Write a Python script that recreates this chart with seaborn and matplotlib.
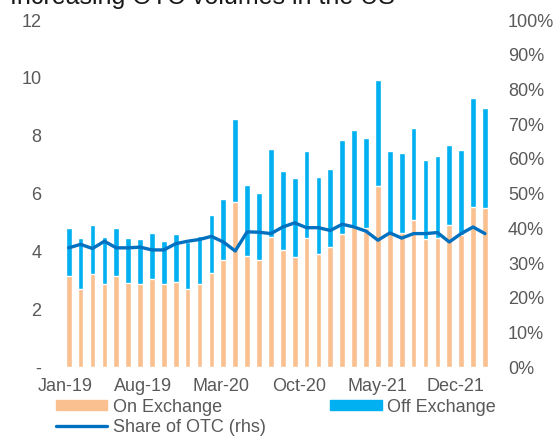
import numpy as np
import pandas as pd
import seaborn as sns
import matplotlib.pyplot as plt
from matplotlib.patches import Patch
from matplotlib.lines import Line2D

# monthly categories Jan-19 .. Dec-21
months = list(pd.date_range("2019-01-01", periods=36, freq="MS").strftime("%b-%y"))

# volumes
on_exchange = [3.15, 2.72, 3.23, 2.87, 3.14, 2.92, 2.88, 3.06, 2.87, 2.96, 2.72, 2.87,
               3.27, 3.72, 5.70, 3.85, 3.70, 4.49, 4.06, 3.80, 4.47, 3.92, 4.14, 4.61,
               4.88, 4.81, 6.27, 4.63, 4.63, 5.08, 4.42, 4.47, 4.90, 4.56, 5.54, 5.49]
off_exchange = [1.66, 1.76, 1.70, 1.63, 1.67, 1.54, 1.54, 1.58, 1.49, 1.66, 1.61, 1.68,
                1.98, 2.11, 2.87, 2.46, 2.33, 3.06, 2.73, 2.73, 3.01, 2.64, 2.72, 3.25,
                3.33, 3.10, 3.66, 2.83, 2.78, 3.18, 2.76, 2.83, 2.78, 2.94, 3.77, 3.46]
share_otc = [34.4, 35.4, 34.2, 36.3, 34.4, 34.4, 34.6, 33.8, 33.8, 35.6, 36.3, 36.8,
             37.7, 36.1, 33.5, 39.0, 38.9, 38.5, 40.4, 41.6, 40.2, 40.2, 39.4, 41.2,
             40.4, 39.2, 36.6, 38.7, 37.2, 38.5, 38.5, 38.8, 36.1, 38.5, 40.4, 38.5]

x_labels = ["Jan-19", "Aug-19", "Mar-20", "Oct-20", "May-21", "Dec-21"]
left_labels = ["-", "2", "4", "6", "8", "10", "12"]

df = pd.DataFrame({"month": months, "on": on_exchange, "off": off_exchange, "share": share_otc})
df["total"] = df["on"] + df["off"]
df["idx"] = np.arange(len(df))

sns.set_theme(style="white")
plt.rcParams["font.family"] = ["Liberation Sans", "DejaVu Sans"]

c_on = "#FAC090"
c_off = "#00B0F0"
c_line = "#0070C0"
grey = "#595959"

fig = plt.figure(figsize=(5.57, 4.38), dpi=100)
ax = fig.add_axes([0.102, 0.1614, 0.79, 0.7929])

# stacked bars: total (off exchange on top) then on exchange over it
sns.barplot(data=df, x="month", y="total", color=c_off, width=0.48, saturation=1, ax=ax)
sns.barplot(data=df, x="month", y="on", color=c_on, width=0.48, saturation=1, ax=ax)

ax.set_xlim(-1, 36)
ax.set_ylim(0, 12)
ax.set_yticks(np.arange(0, 13, 2))
ax.set_yticklabels(left_labels)
ax.set_xticks(np.linspace(-0.3, 32.5, len(x_labels)))
ax.set_xticklabels(x_labels)
ax.set_xlabel("")
ax.set_ylabel("")
ax.tick_params(axis="y", length=0, pad=11, labelsize=13, labelcolor=grey)
ax.tick_params(axis="x", length=0, pad=8, labelsize=13, labelcolor=grey)
for s in ax.spines.values():
    s.set_visible(False)

ax2 = ax.twinx()
sns.lineplot(data=df, x="idx", y="share", color=c_line, linewidth=2.4, ax=ax2)
ax2.set_ylim(0, 100)
ax2.set_yticks(np.arange(0, 101, 10))
ax2.set_yticklabels([f"{v}%" for v in range(0, 101, 10)])
ax2.set_ylabel("")
ax2.tick_params(axis="y", length=0, pad=8, labelsize=13, labelcolor=grey)
for s in ax2.spines.values():
    s.set_visible(False)

# title, mostly cut off at the top like the source image
fig.text(10 / 557, 1 - 4 / 438, "Increasing OTC volumes in the US", fontsize=18,
         color="#1a1a1a", ha="left", va="baseline")

handles = [Patch(color=c_on, label="On Exchange"),
           Line2D([], [], color=c_line, linewidth=2.4, label="Share of OTC (rhs)"),
           Patch(color=c_off, label="Off Exchange")]
leg = fig.legend(handles=handles, loc="upper left", bbox_to_anchor=(0.1, 0.09), ncol=2,
                 frameon=False, fontsize=13, borderpad=0, borderaxespad=0,
                 handlelength=2.85, handleheight=0.5, handletextpad=0.3,
                 columnspacing=3.6, labelspacing=0.2)
for t in leg.get_texts():
    t.set_color(grey)

fig.savefig("out.png", dpi=100)
